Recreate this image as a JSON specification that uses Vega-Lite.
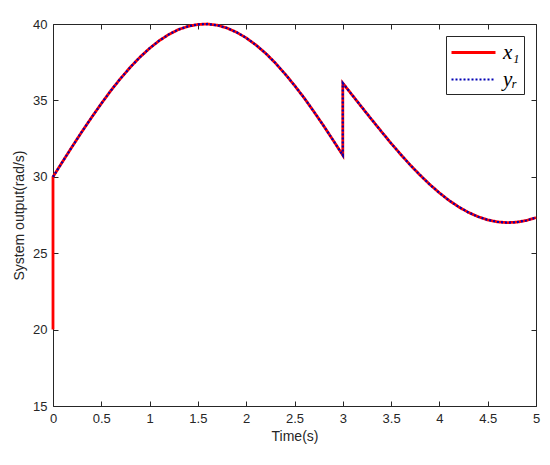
{
  "$schema": "https://vega.github.io/schema/vega-lite/v6.json",
  "width": 483,
  "height": 382,
  "autosize": "none",
  "padding": {"left": 53, "top": 24, "right": 14, "bottom": 59},
  "background": "white",
  "config": {
    "view": {"stroke": "#262626", "strokeWidth": 1},
    "axis": {
      "grid": false,
      "domain": false,
      "tickColor": "#262626",
      "tickSize": -5,
      "labelFont": "Liberation Sans",
      "labelFontSize": 13,
      "labelColor": "#262626",
      "titleFont": "Liberation Sans",
      "titleFontSize": 14,
      "titleFontWeight": "normal",
      "titleColor": "#262626"
    }
  },
  "data": {
    "values": [
      {"i": 0, "t": 0, "x1": 20, "yr": null},
      {"i": 1, "t": 0, "x1": 30, "yr": 30},
      {"i": 2, "t": 0.1, "x1": 31.0, "yr": 31.0},
      {"i": 3, "t": 0.2, "x1": 31.99, "yr": 31.99},
      {"i": 4, "t": 0.3, "x1": 32.96, "yr": 32.96},
      {"i": 5, "t": 0.4, "x1": 33.89, "yr": 33.89},
      {"i": 6, "t": 0.5, "x1": 34.79, "yr": 34.79},
      {"i": 7, "t": 0.6, "x1": 35.65, "yr": 35.65},
      {"i": 8, "t": 0.7, "x1": 36.44, "yr": 36.44},
      {"i": 9, "t": 0.8, "x1": 37.17, "yr": 37.17},
      {"i": 10, "t": 0.9, "x1": 37.83, "yr": 37.83},
      {"i": 11, "t": 1.0, "x1": 38.41, "yr": 38.41},
      {"i": 12, "t": 1.1, "x1": 38.91, "yr": 38.91},
      {"i": 13, "t": 1.2, "x1": 39.32, "yr": 39.32},
      {"i": 14, "t": 1.3, "x1": 39.64, "yr": 39.64},
      {"i": 15, "t": 1.4, "x1": 39.85, "yr": 39.85},
      {"i": 16, "t": 1.5, "x1": 39.97, "yr": 39.97},
      {"i": 17, "t": 1.6, "x1": 40.0, "yr": 40.0},
      {"i": 18, "t": 1.7, "x1": 39.92, "yr": 39.92},
      {"i": 19, "t": 1.8, "x1": 39.74, "yr": 39.74},
      {"i": 20, "t": 1.9, "x1": 39.46, "yr": 39.46},
      {"i": 21, "t": 2.0, "x1": 39.09, "yr": 39.09},
      {"i": 22, "t": 2.1, "x1": 38.63, "yr": 38.63},
      {"i": 23, "t": 2.2, "x1": 38.09, "yr": 38.09},
      {"i": 24, "t": 2.3, "x1": 37.46, "yr": 37.46},
      {"i": 25, "t": 2.4, "x1": 36.75, "yr": 36.75},
      {"i": 26, "t": 2.5, "x1": 35.98, "yr": 35.98},
      {"i": 27, "t": 2.6, "x1": 35.16, "yr": 35.16},
      {"i": 28, "t": 2.7, "x1": 34.27, "yr": 34.27},
      {"i": 29, "t": 2.8, "x1": 33.35, "yr": 33.35},
      {"i": 30, "t": 2.9, "x1": 32.39, "yr": 32.39},
      {"i": 31, "t": 3.0, "x1": 31.41, "yr": 31.41},
      {"i": 32, "t": 3.0, "x1": 36.13, "yr": 36.13},
      {"i": 33, "t": 3.1, "x1": 35.33, "yr": 35.33},
      {"i": 34, "t": 3.2, "x1": 34.53, "yr": 34.53},
      {"i": 35, "t": 3.3, "x1": 33.74, "yr": 33.74},
      {"i": 36, "t": 3.4, "x1": 32.96, "yr": 32.96},
      {"i": 37, "t": 3.5, "x1": 32.19, "yr": 32.19},
      {"i": 38, "t": 3.6, "x1": 31.46, "yr": 31.46},
      {"i": 39, "t": 3.7, "x1": 30.76, "yr": 30.76},
      {"i": 40, "t": 3.8, "x1": 30.11, "yr": 30.11},
      {"i": 41, "t": 3.9, "x1": 29.5, "yr": 29.5},
      {"i": 42, "t": 4.0, "x1": 28.95, "yr": 28.95},
      {"i": 43, "t": 4.1, "x1": 28.45, "yr": 28.45},
      {"i": 44, "t": 4.2, "x1": 28.03, "yr": 28.03},
      {"i": 45, "t": 4.3, "x1": 27.67, "yr": 27.67},
      {"i": 46, "t": 4.4, "x1": 27.39, "yr": 27.39},
      {"i": 47, "t": 4.5, "x1": 27.18, "yr": 27.18},
      {"i": 48, "t": 4.6, "x1": 27.05, "yr": 27.05},
      {"i": 49, "t": 4.7, "x1": 27.0, "yr": 27.0},
      {"i": 50, "t": 4.8, "x1": 27.03, "yr": 27.03},
      {"i": 51, "t": 4.9, "x1": 27.14, "yr": 27.14},
      {"i": 52, "t": 5.0, "x1": 27.33, "yr": 27.33}
    ]
  },
  "transform": [{"fold": ["x1", "yr"], "as": ["series", "value"]}],
  "layer": [
    {
      "mark": {"type": "line", "clip": false},
      "encoding": {
        "x": {
          "field": "t", "type": "quantitative",
          "scale": {"domain": [0, 5], "nice": false},
          "axis": {"orient": "bottom", "values": [0, 0.5, 1, 1.5, 2, 2.5, 3, 3.5, 4, 4.5, 5], "format": "~g", "title": "Time(s)", "labelPadding": 11, "titlePadding": 4, "labelFlush": false}
        },
        "y": {
          "field": "value", "type": "quantitative",
          "scale": {"domain": [15, 40], "nice": false, "zero": false},
          "axis": {"orient": "left", "values": [15, 20, 25, 30, 35, 40], "title": "System output(rad/s)", "labelPadding": 11, "titlePadding": 6, "labelFlush": false}
        },
        "order": {"field": "i", "type": "quantitative"},
        "color": {
          "field": "series", "type": "nominal",
          "scale": {"domain": ["x1", "yr"], "range": ["#FF0000", "#0000B4"]},
          "legend": {
            "title": null,
            "orient": "top-right",
            "offset": 12,
            "padding": 4,
            "rowPadding": 4,
            "strokeColor": "#262626",
            "fillColor": "white",
            "symbolType": "M-1,0H3",
            "symbolSize": 484,
            "labelOffset": 28,
            "labelFont": "Liberation Serif",
            "labelFontStyle": "italic",
            "labelFontSize": 21,
            "labelColor": "black",
            "labelExpr": "datum.label == 'x1' ? 'x₁' : 'yᵣ'"
          }
        },
        "strokeDash": {
          "field": "series", "type": "nominal",
          "scale": {"domain": ["x1", "yr"], "range": [[1, 0], [2, 2]]},
          "legend": null
        },
        "strokeWidth": {
          "field": "series", "type": "nominal",
          "scale": {"domain": ["x1", "yr"], "range": [2.8, 2.2]},
          "legend": null
        }
      }
    },
    {
      "mark": {"type": "point", "opacity": 0},
      "encoding": {
        "x": {
          "field": "t", "type": "quantitative",
          "axis": {"orient": "top", "values": [0, 0.5, 1, 1.5, 2, 2.5, 3, 3.5, 4, 4.5, 5], "labels": false, "title": null}
        },
        "y": {
          "field": "value", "type": "quantitative",
          "axis": {"orient": "right", "values": [15, 20, 25, 30, 35, 40], "labels": false, "title": null}
        }
      }
    }
  ],
  "resolve": {"axis": {"x": "independent", "y": "independent"}}
}
